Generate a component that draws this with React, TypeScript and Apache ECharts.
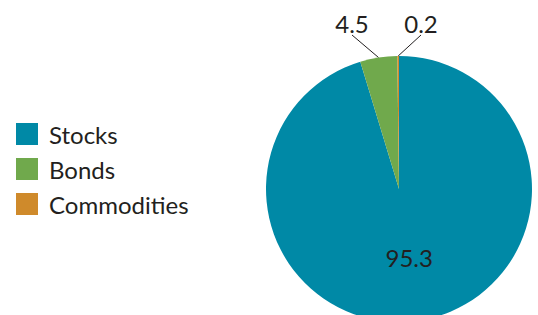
import React, { useEffect, useRef } from "react";
import * as echarts from "echarts";

const categories = ["Stocks", "Bonds", "Commodities"];
const values = [95.3, 4.5, 0.2];
const colors = ["#0089A6", "#70A94C", "#CF8A2B"];

export default function App() {
  const ref = useRef<HTMLDivElement>(null);
  useEffect(() => {
    if (!ref.current) return;
    const chart = echarts.init(ref.current, null, { renderer: "svg" });
    const font = "Lato";
    chart.setOption({
      animation: false,
      legend: {
        orient: "vertical",
        left: 11,
        top: 117,
        itemWidth: 22,
        itemHeight: 22,
        itemGap: 11,
        icon: "rect",
        data: categories,
        textStyle: {
          fontSize: 24,
          lineHeight: 22,
          color: "#231F20",
          fontFamily: font,
          padding: [0, 0, 0, 6],
        },
      },
      series: [
        {
          type: "pie",
          center: [399, 189],
          radius: [0, 133],
          startAngle: 90,
          clockwise: true,
          avoidLabelOverlap: false,
          labelLayout: (p: any) => {
            if (p.dataIndex === 1) {
              return { x: 352, y: 23, align: "center", verticalAlign: "middle", hideOverlap: false };
            }
            if (p.dataIndex === 2) {
              return { x: 421, y: 23, align: "center", verticalAlign: "middle", hideOverlap: false };
            }
            return { hideOverlap: false };
          },
          data: categories.map((c, i) => ({
            name: c,
            value: values[i],
            itemStyle: { color: colors[i] },
            label: i === 0 ? { position: "inside", show: true } : { position: "outside", show: true },
            labelLine:
              i === 0
                ? { show: false }
                : { show: true, length: 10, length2: 0, lineStyle: { color: "#231F20", width: 1 } },
          })),
          label: {
            formatter: (p: any) => p.value.toFixed(1),
            fontSize: 24,
            color: "#231F20",
            fontFamily: font,
          },
          itemStyle: { borderWidth: 0 },
        },
      ],
    });
    return () => chart.dispose();
  }, []);
  return <div ref={ref} style={{ position: "absolute", left: 0, top: 0, width: 538, height: 315 }} />;
}
